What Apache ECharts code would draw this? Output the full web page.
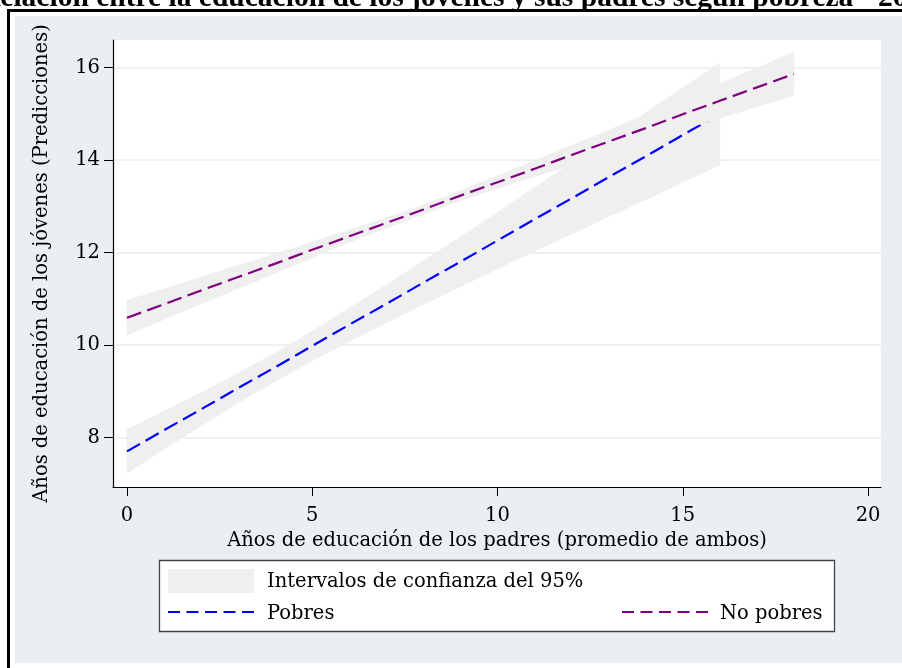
<!DOCTYPE html>
<html>
<head>
<meta charset="utf-8">
<script src="https://cdn.jsdelivr.net/npm/echarts@6/dist/echarts.min.js"></script>
<style>
  html, body { margin: 0; padding: 0; background: #ffffff; }
  #chart { width: 902px; height: 668px; }
</style>
</head>
<body>
<div id="chart"></div>
<script>
// Predicted years of schooling of young people by parents' schooling, with 95% CIs
const xPobres = [0, 1, 2, 3, 4, 5, 6, 7, 8, 9, 10, 11, 12, 13, 14, 15, 16];
const pobresPred = [7.70, 8.16, 8.61, 9.07, 9.52, 9.98, 10.44, 10.89, 11.35, 11.80, 12.26, 12.72, 13.17, 13.63, 14.08, 14.54, 15.00];
const pobresLo = [7.23, 7.75, 8.25, 8.75, 9.21, 9.66, 10.08, 10.48, 10.88, 11.26, 11.65, 12.03, 12.40, 12.78, 13.14, 13.52, 13.90];
const pobresHi = [8.17, 8.57, 8.97, 9.39, 9.83, 10.30, 10.80, 11.30, 11.82, 12.34, 12.87, 13.41, 13.94, 14.48, 15.02, 15.56, 16.10];

const xNoPobres = [0, 1, 2, 3, 4, 5, 6, 7, 8, 9, 10, 11, 12, 13, 14, 15, 16, 17, 18];
const noPobresPred = [10.59, 10.88, 11.18, 11.47, 11.76, 12.06, 12.35, 12.64, 12.93, 13.23, 13.52, 13.81, 14.11, 14.40, 14.69, 14.99, 15.28, 15.57, 15.86];
const noPobresLo = [10.22, 10.55, 10.89, 11.22, 11.55, 11.89, 12.22, 12.53, 12.83, 13.12, 13.39, 13.64, 13.90, 14.15, 14.40, 14.66, 14.91, 15.15, 15.40];
const noPobresHi = [10.97, 11.21, 11.47, 11.72, 11.97, 12.23, 12.49, 12.75, 13.03, 13.34, 13.66, 13.98, 14.32, 14.65, 14.98, 15.32, 15.65, 15.99, 16.33];

const xTicks = [0, 5, 10, 15, 20];
const yTicks = [8, 10, 12, 14, 16];

const titleText = 'Relación entre la educación de los jóvenes y sus padres según pobreza - 2012';
const xTitle = 'Años de educación de los padres (promedio de ambos)';
const yTitle = 'Años de educación de los jóvenes (Predicciones)';
const legendCI = 'Intervalos de confianza del 95%';
const legendPobres = 'Pobres';
const legendNoPobres = 'No pobres';

const SERIF = '"DejaVu Serif", serif';
const FS = 19.5;
const CI_FILL = '#efefef';
const BLUE = '#0000ff';
const PURPLE = '#800080';
const DASH = [15, 6.5];

const pairs = (xs, ys) => xs.map((x, i) => [x, ys[i]]);

const chart = echarts.init(document.getElementById('chart'), null, { renderer: 'canvas' });

// Confidence band: one quadrilateral per interval between consecutive x values
const band = (xs, lo, hi, z) => ({
  type: 'custom', z: z, silent: true, clip: true, animation: false,
  data: xs.slice(0, -1).map((x, i) => [x, lo[i], hi[i], xs[i + 1], lo[i + 1], hi[i + 1]]),
  encode: { x: [0, 3], y: [1, 2, 4, 5] },
  renderItem: (params, api) => {
    const pts = [
      api.coord([api.value(0), api.value(1)]),
      api.coord([api.value(3), api.value(4)]),
      api.coord([api.value(3), api.value(5)]),
      api.coord([api.value(0), api.value(2)])
    ];
    return {
      type: 'polygon', shape: { points: pts },
      style: { fill: CI_FILL, stroke: CI_FILL, lineWidth: 0.6 }
    };
  }
});

const fitLine = (xs, ys, color, z) => ({
  type: 'line', data: pairs(xs, ys), showSymbol: false, symbol: 'none',
  silent: true, z: z, animation: false,
  lineStyle: { color: color, width: 2.2, type: DASH, cap: 'butt' }
});

chart.setOption({
  animation: false,
  backgroundColor: '#ffffff',
  grid: {
    left: 113, top: 40, right: 21, bottom: 181,
    show: true, backgroundColor: '#ffffff', borderWidth: 0
  },
  xAxis: {
    type: 'value', min: -0.378, max: 20.35,
    axisLine: { show: true, onZero: false, lineStyle: { color: '#000', width: 1.2 } },
    axisTick: { show: true, length: 9, customValues: xTicks, lineStyle: { color: '#000', width: 1 } },
    axisLabel: { customValues: xTicks, margin: 19, color: '#000', fontFamily: SERIF, fontSize: FS },
    splitLine: { show: false },
    name: xTitle, nameLocation: 'middle', nameGap: 37,
    nameTextStyle: { color: '#000', fontFamily: SERIF, fontSize: FS }
  },
  yAxis: {
    type: 'value', min: 6.93, max: 16.595,
    axisLine: { show: true, onZero: false, lineStyle: { color: '#000', width: 1.2 } },
    axisTick: { show: true, length: 9, customValues: yTicks, lineStyle: { color: '#000', width: 1 } },
    axisLabel: { customValues: yTicks, margin: 13, color: '#000', fontFamily: SERIF, fontSize: FS },
    splitLine: { show: true, lineStyle: { color: '#e5edf0', width: 1.6 } },
    name: yTitle, nameLocation: 'middle', nameGap: 61,
    nameTextStyle: { color: '#000', fontFamily: SERIF, fontSize: FS }
  },
  series: [
    band(xPobres, pobresLo, pobresHi, 2),
    fitLine(xPobres, pobresPred, BLUE, 3),
    band(xNoPobres, noPobresLo, noPobresHi, 4),
    fitLine(xNoPobres, noPobresPred, PURPLE, 5)
  ],
  graphic: [
    // page frame and panel background
    { type: 'rect', z: -5, silent: true, shape: { x: 15, y: 16, width: 887, height: 647 }, style: { fill: '#e9eff2' } },
    { type: 'line', z: 10, silent: true, shape: { x1: 8.5, y1: 9, x2: 8.5, y2: 668 }, style: { stroke: '#000', lineWidth: 3 } },
    { type: 'line', z: 10, silent: true, shape: { x1: 7, y1: 10.5, x2: 902, y2: 10.5 }, style: { stroke: '#000', lineWidth: 3 } },
    // heading
    { type: 'text', z: 11, silent: true, x: -21, y: -2,
      style: { text: titleText, fill: '#000', font: 'bold 29.5px "Liberation Serif", serif', verticalAlign: 'middle' } },
    // legend box
    { type: 'rect', z: 10, silent: true, shape: { x: 159.5, y: 560.5, width: 675, height: 71 },
      style: { fill: '#ffffff', stroke: '#444', lineWidth: 1.3 } },
    { type: 'rect', z: 11, silent: true, shape: { x: 168, y: 569, width: 86, height: 24 }, style: { fill: CI_FILL } },
    { type: 'text', z: 11, silent: true, x: 267, y: 582,
      style: { text: legendCI, fill: '#000', fontFamily: SERIF, fontSize: FS, verticalAlign: 'middle' } },
    { type: 'line', z: 11, silent: true, shape: { x1: 168, y1: 612, x2: 254, y2: 612 },
      style: { stroke: BLUE, lineWidth: 2.2, lineDash: [12, 6.5] } },
    { type: 'text', z: 11, silent: true, x: 267, y: 614,
      style: { text: legendPobres, fill: '#000', fontFamily: SERIF, fontSize: FS, verticalAlign: 'middle' } },
    { type: 'line', z: 11, silent: true, shape: { x1: 622, y1: 612, x2: 708, y2: 612 },
      style: { stroke: PURPLE, lineWidth: 2.2, lineDash: [12, 6.5] } },
    { type: 'text', z: 11, silent: true, x: 720, y: 614,
      style: { text: legendNoPobres, fill: '#000', fontFamily: SERIF, fontSize: FS, verticalAlign: 'middle' } }
  ]
});
</script>
</body>
</html>
